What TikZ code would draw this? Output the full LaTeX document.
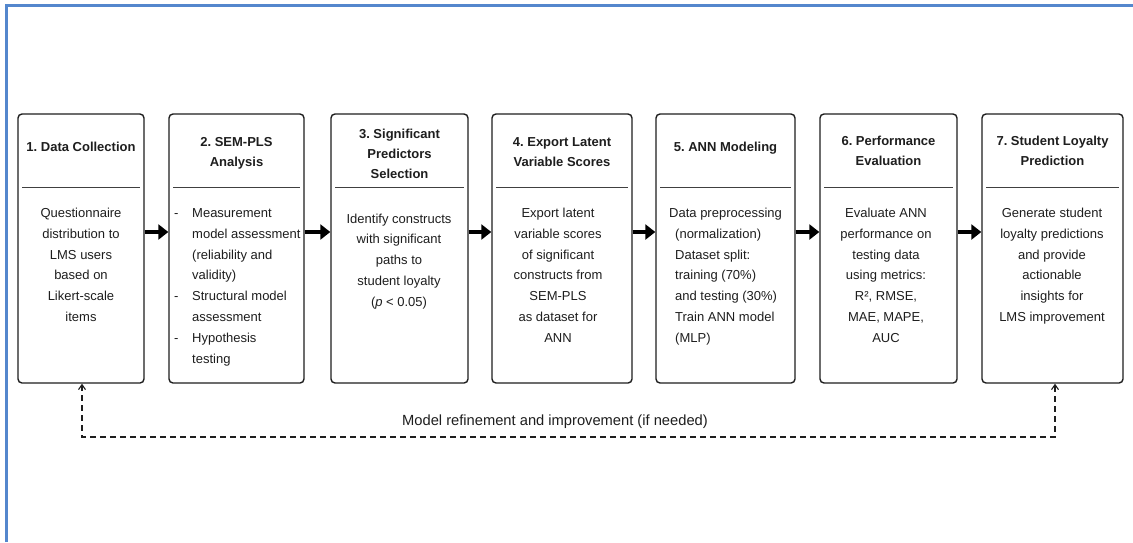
\documentclass[tikz,border=0pt]{standalone}
\usepackage{fontspec}
\setmainfont{Liberation Sans}
\usetikzlibrary{arrows.meta}
\frenchspacing
\newcommand\rl{\rule[-3.5pt]{0pt}{16pt}}
\newcommand\bul{\makebox[18pt][l]{-}}
\definecolor{frameblue}{RGB}{84,135,205}
\definecolor{ink}{RGB}{30,30,30}
\begin{document}
\begin{tikzpicture}[x=1pt,y=-1pt,
  stepbox/.style={draw=ink, line width=1.4pt, rounded corners=4pt, minimum height=269pt, inner sep=0pt},
  divider/.style={draw=ink!85, line width=0.9pt},
  ttl/.style={anchor=north, inner sep=0pt, align=center, text=ink, font=\fontsize{13}{20.2}\selectfont\bfseries},
  body/.style={anchor=north, inner sep=0pt, align=center, text=ink, font=\fontsize{13}{20.8}\selectfont},
  bodyl/.style={anchor=north west, inner sep=0pt, align=left, text=ink, font=\fontsize{13}{20.8}\selectfont},
  flow/.style={draw=black, line width=3.3pt, -{Triangle[length=10pt,width=15pt]}},
  fb/.style={draw=ink, line width=1.1pt, dash pattern=on 6pt off 4pt, {Straight Barb[length=5pt,width=7pt]}-{Straight Barb[length=5pt,width=7pt]}},
  lbl/.style={text=ink, inner sep=1pt, font=\fontsize{14.7}{16}\selectfont}
]
\useasboundingbox (0,0) rectangle (1133,542);
\fill[white] (0,0) rectangle (1133,542);
\draw[frameblue, line width=2.5pt] (6.3,542) -- (6.3,5.5) -- (1133,5.5);

% boxes
\node[stepbox, minimum width=126pt] (b1) at (81,248.5) {};
\node[stepbox, minimum width=135pt] (b2) at (236.5,248.5) {};
\node[stepbox, minimum width=137pt] (b3) at (399.5,248.5) {};
\node[stepbox, minimum width=140pt] (b4) at (562,248.5) {};
\node[stepbox, minimum width=139pt] (b5) at (725.5,248.5) {};
\node[stepbox, minimum width=137pt] (b6) at (888.5,248.5) {};
\node[stepbox, minimum width=141pt] (b7) at (1052.5,248.5) {};

% dividers
\foreach \b in {b1,b2,b3,b4,b5,b6,b7}{
  \draw[divider] ([xshift=5pt,yshift=-74pt]\b.north west) -- ([xshift=-5pt,yshift=-74pt]\b.north east);
}

% titles
\node[ttl] (t1) at (81,139) {\rl 1. Data Collection};
\node[ttl] (t2) at (236.5,134) {\rl 2. SEM-PLS\\Analysis};
\node[ttl] (t3) at (399.5,125.3) {\rl 3. Significant\\Predictors\\Selection};
\node[ttl] (t4) at (562,133.3) {\rl 4. Export Latent\\Variable Scores};
\node[ttl] (t5) at (725.5,138.7) {\rl 5. ANN Modeling};
\node[ttl] (t6) at (888.5,132.7) {\rl 6. Performance\\Evaluation};
\node[ttl] (t7) at (1052.5,132.7) {\rl 7. Student Loyalty\\Prediction};

% bodies
\node[body] (d1) at (81,204.7) {\rl Questionnaire\\distribution to\\LMS users\\based on\\Likert-scale\\items};
\node[bodyl] (d2) at (174,204.7) {\rl\bul Measurement\\\hspace*{18pt}model assessment\\\hspace*{18pt}(reliability and\\\hspace*{18pt}validity)\\\bul Structural model\\\hspace*{18pt}assessment\\\bul Hypothesis\\\hspace*{18pt}testing};
\node[body] (d3) at (399,210.3) {\rl Identify constructs\\with significant\\paths to\\student loyalty\\(\textit{p} < 0.05)};
\node[body] (d4) at (558,204.7) {\rl Export latent\\variable scores\\of significant\\constructs from\\SEM-PLS\\as dataset for\\ANN};
\node[bodyl] (d5) at (675,204.7) {\rl\hspace*{-6pt}Data preprocessing\\(normalization)\\Dataset split:\\training (70\%)\\and testing (30\%)\\Train ANN model\\(MLP)};
\node[body] (d6) at (886,204.7) {\rl Evaluate ANN\\performance on\\testing data\\using metrics:\\R², RMSE,\\MAE, MAPE,\\AUC};
\node[body] (d7) at (1052,204.7) {\rl Generate student\\loyalty predictions\\and provide\\actionable\\insights for\\LMS improvement};

% flow arrows
\draw[flow] (b1.east |- 0,232) -- (b2.west |- 0,232);
\draw[flow] (b2.east |- 0,232) -- (b3.west |- 0,232);
\draw[flow] (b3.east |- 0,232) -- (b4.west |- 0,232);
\draw[flow] (b4.east |- 0,232) -- (b5.west |- 0,232);
\draw[flow] (b5.east |- 0,232) -- (b6.west |- 0,232);
\draw[flow] (b6.east |- 0,232) -- (b7.west |- 0,232);

% feedback loop
\coordinate (fl) at (82,437);
\coordinate (fr) at (1055,437);
\draw[fb] (b1.south -| fl) -- (fl) -- (fr) -- (b7.south -| fr);
\node[lbl] (loop) at (555,422) {Model refinement and improvement (if needed)};
\end{tikzpicture}
\end{document}
